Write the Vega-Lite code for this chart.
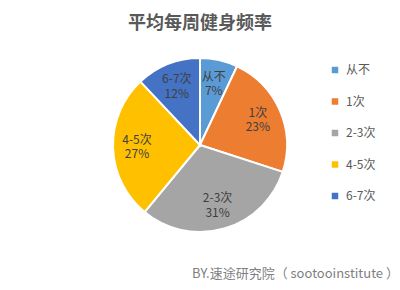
{
  "$schema": "https://vega.github.io/schema/vega-lite/v6.json",
  "padding": 1,
  "autosize": "pad",
  "background": "white",
  "title": {
    "text": "平均每周健身频率",
    "anchor": "middle",
    "frame": "group",
    "offset": -32,
    "font": "Noto Sans CJK SC",
    "fontSize": 18,
    "fontWeight": "bold",
    "color": "#595959"
  },
  "vconcat": [
    {
      "width": 398,
      "height": 288,
      "title": {
        "text": "BY.速途研究院（ sootooinstitute ）",
        "orient": "bottom",
        "anchor": "end",
        "offset": -21,
        "font": "Noto Sans CJK SC",
        "fontSize": 13,
        "fontWeight": "normal",
        "color": "#7F7F7F"
      },
      "data": {
        "values": [
          {"频率": "从不", "占比": 7, "百分比": "7%", "序号": 1},
          {"频率": "1次", "占比": 23, "百分比": "23%", "序号": 2},
          {"频率": "2-3次", "占比": 31, "百分比": "31%", "序号": 3},
          {"频率": "4-5次", "占比": 27, "百分比": "27%", "序号": 4},
          {"频率": "6-7次", "占比": 12, "百分比": "12%", "序号": 5}
        ]
      },
      "encoding": {
        "theta": {"field": "占比", "type": "quantitative", "stack": true},
        "order": {"field": "序号", "type": "quantitative"}
      },
      "layer": [
        {
          "mark": {"type": "arc", "outerRadius": 87, "stroke": "white", "strokeWidth": 2},
          "encoding": {
            "color": {
              "field": "频率",
              "type": "nominal",
              "sort": ["从不", "1次", "2-3次", "4-5次", "6-7次"],
              "scale": {
                "domain": ["从不", "1次", "2-3次", "4-5次", "6-7次"],
                "range": ["#5B9BD5", "#ED7D31", "#A5A5A5", "#FFC000", "#4472C4"]
              },
              "legend": {
                "title": null,
                "orient": "none",
                "legendX": 328,
                "legendY": 63,
                "symbolType": "square",
                "symbolSize": 42,
                "symbolStrokeWidth": 0,
                "labelFont": "Noto Sans CJK SC",
                "labelFontSize": 12,
                "labelColor": "#595959",
                "rowPadding": 19.5,
                "labelOffset": 5
              }
            }
          }
        },
        {
          "mark": {"type": "text", "radius": 63, "dy": -7, "font": "Noto Sans CJK SC", "fontSize": 12, "color": "#404040"},
          "encoding": {"text": {"field": "频率", "type": "nominal"}}
        },
        {
          "mark": {"type": "text", "radius": 63, "dy": 7.5, "font": "Noto Sans CJK SC", "fontSize": 12, "color": "#404040"},
          "encoding": {"text": {"field": "百分比", "type": "nominal"}}
        }
      ]
    }
  ],
  "config": {
    "view": {"stroke": "#D9D9D9", "cornerRadius": 4}
  }
}
